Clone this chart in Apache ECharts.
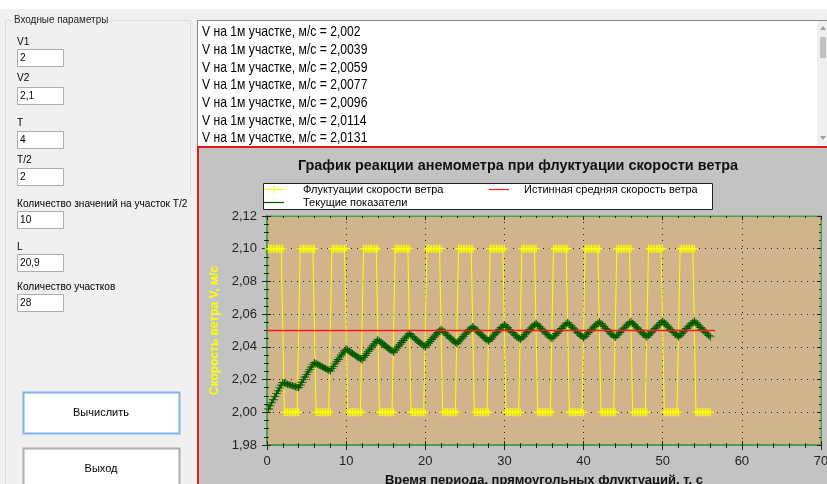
<!DOCTYPE html>
<html>
<head>
<meta charset="utf-8">
<script src="https://cdn.jsdelivr.net/npm/echarts@6/dist/echarts.min.js"></script>
<style>
  html, body { margin: 0; padding: 0; background: #f0f0f0; }
  #main { width: 827px; height: 484px; }
</style>
</head>
<body>
<div id="main"></div>
<script>
// входные параметры (левая панель)
const inputLabels = ['V1', 'V2', 'T', 'T/2', 'Количество значений на участок Т/2', 'L', 'Количество участков'];
const inputValues = ['2', '2,1', '4', '2', '10', '20,9', '28'];
// первые строки текстового поля
const outputValues = ['2,002', '2,0039', '2,0059', '2,0077', '2,0096', '2,0114', '2,0131'];

// шаг по времени, с (T/2 / 10)
const timeStep = 0.2;
const pointsPerSegment = 10;
// уровень флуктуации на каждом участке T/2, м/с
const fluctLevels = [
  2.1, 2.0, 2.1, 2.0, 2.1, 2.0, 2.1, 2.0, 2.1, 2.0, 2.1, 2.0, 2.1, 2.0,
  2.1, 2.0, 2.1, 2.0, 2.1, 2.0, 2.1, 2.0, 2.1, 2.0, 2.1, 2.0, 2.1, 2.0
];
// текущие показатели анемометра, м/с (по 10 на участок)
const currentReadings = [
  2.0020, 2.0039, 2.0059, 2.0077, 2.0096, 2.0114, 2.0131, 2.0149, 2.0165, 2.0182,
  2.0179, 2.0175, 2.0172, 2.0169, 2.0165, 2.0162, 2.0159, 2.0156, 2.0153, 2.0150,
  2.0167, 2.0184, 2.0200, 2.0216, 2.0232, 2.0247, 2.0262, 2.0277, 2.0291, 2.0305,
  2.0299, 2.0294, 2.0288, 2.0283, 2.0277, 2.0272, 2.0267, 2.0262, 2.0257, 2.0252,
  2.0267, 2.0281, 2.0296, 2.0310, 2.0323, 2.0337, 2.0350, 2.0363, 2.0376, 2.0388,
  2.0381, 2.0374, 2.0366, 2.0359, 2.0353, 2.0346, 2.0339, 2.0333, 2.0327, 2.0320,
  2.0334, 2.0347, 2.0360, 2.0373, 2.0385, 2.0398, 2.0410, 2.0421, 2.0433, 2.0444,
  2.0436, 2.0428, 2.0419, 2.0411, 2.0404, 2.0396, 2.0389, 2.0381, 2.0374, 2.0367,
  2.0379, 2.0392, 2.0404, 2.0416, 2.0427, 2.0439, 2.0450, 2.0461, 2.0472, 2.0482,
  2.0473, 2.0464, 2.0455, 2.0447, 2.0438, 2.0430, 2.0422, 2.0414, 2.0406, 2.0398,
  2.0410, 2.0422, 2.0433, 2.0445, 2.0456, 2.0466, 2.0477, 2.0488, 2.0498, 2.0508,
  2.0498, 2.0489, 2.0479, 2.0470, 2.0461, 2.0453, 2.0444, 2.0436, 2.0427, 2.0419,
  2.0431, 2.0442, 2.0453, 2.0464, 2.0475, 2.0485, 2.0495, 2.0506, 2.0515, 2.0525,
  2.0515, 2.0505, 2.0496, 2.0486, 2.0477, 2.0468, 2.0459, 2.0450, 2.0442, 2.0434,
  2.0445, 2.0456, 2.0467, 2.0477, 2.0488, 2.0498, 2.0508, 2.0518, 2.0527, 2.0537,
  2.0527, 2.0517, 2.0507, 2.0497, 2.0488, 2.0478, 2.0469, 2.0460, 2.0452, 2.0443,
  2.0454, 2.0465, 2.0476, 2.0486, 2.0496, 2.0506, 2.0516, 2.0526, 2.0535, 2.0545,
  2.0534, 2.0524, 2.0514, 2.0504, 2.0495, 2.0485, 2.0476, 2.0467, 2.0458, 2.0450,
  2.0461, 2.0471, 2.0482, 2.0492, 2.0502, 2.0512, 2.0522, 2.0531, 2.0541, 2.0550,
  2.0539, 2.0529, 2.0519, 2.0509, 2.0500, 2.0490, 2.0481, 2.0472, 2.0463, 2.0454,
  2.0465, 2.0476, 2.0486, 2.0496, 2.0506, 2.0516, 2.0526, 2.0535, 2.0544, 2.0553,
  2.0543, 2.0533, 2.0523, 2.0513, 2.0503, 2.0493, 2.0484, 2.0475, 2.0466, 2.0457,
  2.0468, 2.0478, 2.0489, 2.0499, 2.0509, 2.0519, 2.0528, 2.0538, 2.0547, 2.0556,
  2.0545, 2.0535, 2.0525, 2.0515, 2.0505, 2.0496, 2.0486, 2.0477, 2.0468, 2.0459,
  2.0470, 2.0480, 2.0491, 2.0501, 2.0511, 2.0521, 2.0530, 2.0539, 2.0549, 2.0558,
  2.0547, 2.0537, 2.0526, 2.0516, 2.0507, 2.0497, 2.0488, 2.0478, 2.0469, 2.0460,
  2.0471, 2.0482, 2.0492, 2.0502, 2.0512, 2.0522, 2.0531, 2.0541, 2.0550, 2.0559,
  2.0548, 2.0538, 2.0528, 2.0518, 2.0508, 2.0498, 2.0489, 2.0479, 2.0470, 2.0461
];
// истинная средняя скорость и отрезок, на котором она нарисована
const trueMean = 2.05;
const meanSpan = [0, 56.6];

const seriesNames = ['Флуктуации скорости ветра', 'Текущие показатели', 'Истинная средняя скорость ветра'];
const xRange = [0, 70], xStep = 10;
const yRange = [1.98, 2.12], yStep = 0.02;

// точки серий
const fluctData = [];
fluctLevels.forEach((lvl, s) => {
  for (let k = 0; k < pointsPerSegment; k++) {
    const i = s * pointsPerSegment + k;
    fluctData.push([+((i + 1) * timeStep).toFixed(2), lvl]);
  }
});
const currentData = currentReadings.map((v, i) => [+((i + 1) * timeStep).toFixed(2), v]);
const meanData = meanSpan.map(t => [t, trueMean]);

const FONT = '"Liberation Sans", Arial, sans-serif';
const plusIcon = 'path://M0,3.5H8V4.5H0ZM3.5,0H4.5V8H3.5Z';
const lineIcon = 'path://M0,0H20V1.2H0Z';
const plusLineIcon = 'path://M0,4H20V5H0ZM9.5,0.5H10.5V8.5H9.5Z';
const axisGreen = '#4c9f4c';
const tickColor = '#222';

// элементы формы
const g = [];
g.push({ type: 'rect', z: -10, shape: { x: 0, y: 0, width: 827, height: 9 }, style: { fill: '#ffffff' } });
// групбокс
g.push({ type: 'polyline', z: -10, shape: { points: [[12, 20.5], [5.5, 20.5], [5.5, 484]] }, style: { stroke: '#dcdcdc', fill: null } });
g.push({ type: 'polyline', z: -10, shape: { points: [[110, 20.5], [190.5, 20.5], [190.5, 195]] }, style: { stroke: '#dcdcdc', fill: null } });
g.push({ type: 'text', z: -10, x: 14, y: 20, scaleX: 0.9, style: { text: 'Входные параметры', font: '11px ' + FONT, fill: '#222', verticalAlign: 'middle' } });

const labelY = [42, 78, 123, 160, 204, 247, 287];
const boxTop = [49, 87, 131, 168, 211, 254, 294];
inputLabels.forEach((lab, i) => {
  g.push({ type: 'text', z: -10, x: 17, y: labelY[i], scaleX: 0.92, style: { text: lab, font: '11px ' + FONT, fill: '#000', verticalAlign: 'middle' } });
  g.push({ type: 'rect', z: -10, shape: { x: 17.5, y: boxTop[i] + 0.5, width: 46, height: 17 }, style: { fill: '#fff', stroke: '#abadb3' } });
  g.push({ type: 'text', z: -10, x: 20, y: boxTop[i] + 9, scaleX: 0.92, style: { text: inputValues[i], font: '11px ' + FONT, fill: '#000', verticalAlign: 'middle' } });
});

// кнопки
g.push({ type: 'rect', z: -10, shape: { x: 23.5, y: 392.5, width: 156, height: 41 }, style: { fill: '#fdfdfd', stroke: '#7eb4ea', lineWidth: 2 } });
g.push({ type: 'text', z: -10, x: 101, y: 413, style: { text: 'Вычислить', font: '11px ' + FONT, fill: '#000', align: 'center', verticalAlign: 'middle' } });
g.push({ type: 'rect', z: -10, shape: { x: 23.5, y: 448.5, width: 156, height: 50 }, style: { fill: '#fdfdfd', stroke: '#adadad', lineWidth: 2 } });
g.push({ type: 'text', z: -10, x: 101, y: 469, style: { text: 'Выход', font: '11px ' + FONT, fill: '#000', align: 'center', verticalAlign: 'middle' } });

// многострочное текстовое поле
g.push({ type: 'rect', z: -9, shape: { x: 197.5, y: 20.5, width: 640, height: 126 }, style: { fill: '#fff', stroke: '#828790' } });
outputValues.forEach((v, i) => {
  g.push({ type: 'text', z: -9, x: 202, y: 32 + i * 17.7, scaleX: 0.81,
    style: { text: 'V на 1м участке, м/с = ' + v, font: '15px ' + FONT, fill: '#000', verticalAlign: 'middle' } });
});
// полоса прокрутки
g.push({ type: 'rect', z: -9, shape: { x: 817, y: 21, width: 10, height: 124 }, style: { fill: '#f0f0f0' } });
g.push({ type: 'rect', z: -9, shape: { x: 820, y: 37, width: 6, height: 21 }, style: { fill: '#c2c2c2' } });
g.push({ type: 'polygon', z: -9, shape: { points: [[820, 30], [823, 26], [826, 30]] }, style: { fill: '#a0a0a0' } });
g.push({ type: 'polygon', z: -9, shape: { points: [[820, 136], [823, 140], [826, 136]] }, style: { fill: '#a0a0a0' } });

// панель графика
g.push({ type: 'rect', z: -8, shape: { x: 198, y: 147, width: 640, height: 400 }, style: { fill: '#c3c3c3', stroke: '#e01818', lineWidth: 2 } });
g.push({ type: 'text', z: -8, x: 518, y: 166, scaleX: 1.03, style: { text: 'График реакции анемометра при флуктуации скорости ветра', font: 'bold 14px ' + FONT, fill: '#111', align: 'center', verticalAlign: 'middle' } });
// рамка легенды
g.push({ type: 'rect', z: 3, shape: { x: 263.5, y: 183.5, width: 449, height: 26 }, style: { fill: '#fff', stroke: '#222' } });

const yLabel = v => v.toFixed(2).replace('.', ',');

function xAx(extra) {
  return Object.assign({
    type: 'value', min: xRange[0], max: xRange[1], interval: xStep,
    axisLine: { show: false }, axisLabel: { show: false }, splitLine: { show: false },
    axisTick: { show: true, inside: true, length: 4, lineStyle: { color: tickColor } },
    minorTick: { show: true, splitNumber: 5, length: 2, lineStyle: { color: tickColor } }
  }, extra);
}
function yAx(extra) {
  return Object.assign({
    type: 'value', min: yRange[0], max: yRange[1], interval: yStep,
    axisLine: { show: false }, axisLabel: { show: false }, splitLine: { show: false },
    axisTick: { show: true, inside: true, length: 4, lineStyle: { color: tickColor } },
    minorTick: { show: true, splitNumber: 4, length: 2, lineStyle: { color: tickColor } }
  }, extra);
}

const chart = echarts.init(document.getElementById('main'), null, { renderer: 'canvas' });
chart.setOption({
  animation: false,
  backgroundColor: '#f0f0f0',
  textStyle: { fontFamily: FONT },
  graphic: g,
  grid: {
    left: 267, right: 6, top: 216, bottom: 39,
    show: true, backgroundColor: '#d2b48c', borderColor: axisGreen, borderWidth: 1,
    outerBoundsMode: 'none'
  },
  legend: [
    {
      data: [{ name: seriesNames[0], icon: plusLineIcon }, { name: seriesNames[1], icon: lineIcon }],
      orient: 'vertical', left: 264, top: 184, padding: 0, itemGap: 2, itemWidth: 20, itemHeight: 11,
      selectedMode: false, z: 4,
      textStyle: { fontSize: 11, color: '#000', padding: [0, 0, 0, 14] }
    },
    {
      data: [{ name: seriesNames[2], icon: lineIcon }],
      orient: 'vertical', left: 489, top: 184, padding: 0, itemWidth: 20, itemHeight: 11,
      selectedMode: false, z: 4,
      textStyle: { fontSize: 11, color: '#000', padding: [0, 0, 0, 10] }
    }
  ],
  xAxis: [
    xAx({
      position: 'bottom',
      axisLine: { show: true, onZero: false, lineStyle: { color: axisGreen, width: 2 } },
      axisTick: { show: true, length: 5, lineStyle: { color: tickColor } },
      minorTick: { show: true, splitNumber: 5, length: 3, lineStyle: { color: tickColor } },
      axisLabel: { show: true, color: '#222', fontSize: 13, margin: 10 },
      splitLine: { show: true, showMinLine: false, showMaxLine: false, lineStyle: { color: '#222', type: [1, 5] } },
      name: 'Время периода, прямоугольных флуктуаций, т, с',
      nameLocation: 'middle', nameGap: 29,
      nameTextStyle: { fontWeight: 'bold', fontSize: 13, color: '#111' }
    }),
    xAx({ position: 'bottom' }),
    xAx({ position: 'top', axisLine: { show: true, onZero: false, lineStyle: { color: axisGreen, width: 1 } } })
  ],
  yAxis: [
    yAx({
      position: 'left',
      axisLine: { show: true, onZero: false, lineStyle: { color: axisGreen, width: 2 } },
      axisTick: { show: true, length: 5, lineStyle: { color: tickColor } },
      minorTick: { show: true, splitNumber: 4, length: 3, lineStyle: { color: tickColor } },
      axisLabel: { show: true, color: '#222', fontSize: 13, margin: 10, formatter: yLabel },
      splitLine: { show: true, showMinLine: false, showMaxLine: false, lineStyle: { color: '#222', type: [1, 5] } },
      name: 'Скорость ветра V, м/с',
      nameLocation: 'middle', nameGap: 46, nameRotate: 90,
      nameTextStyle: { fontWeight: 'bold', fontSize: 12, color: '#ffff00' }
    }),
    yAx({ position: 'left' }),
    yAx({ position: 'right', axisLine: { show: true, onZero: false, lineStyle: { color: axisGreen, width: 1 } } })
  ],
  series: [
    {
      name: seriesNames[0], type: 'line', data: fluctData, z: 2,
      symbol: plusIcon, symbolSize: 8, showSymbol: true,
      lineStyle: { color: '#ffff00', width: 1 }, itemStyle: { color: '#ffff00' },
      silent: true
    },
    {
      name: seriesNames[1], type: 'line', data: currentData, z: 3,
      symbol: plusIcon, symbolSize: [9, 7], showSymbol: true,
      lineStyle: { color: '#0a7d0a', width: 2 }, itemStyle: { color: '#005a00' },
      silent: true
    },
    {
      name: seriesNames[2], type: 'line', data: meanData, z: 4,
      symbol: 'none', lineStyle: { color: '#ff1a1a', width: 1.5 }, itemStyle: { color: '#ff1a1a' },
      silent: true
    }
  ]
});
</script>
</body>
</html>
